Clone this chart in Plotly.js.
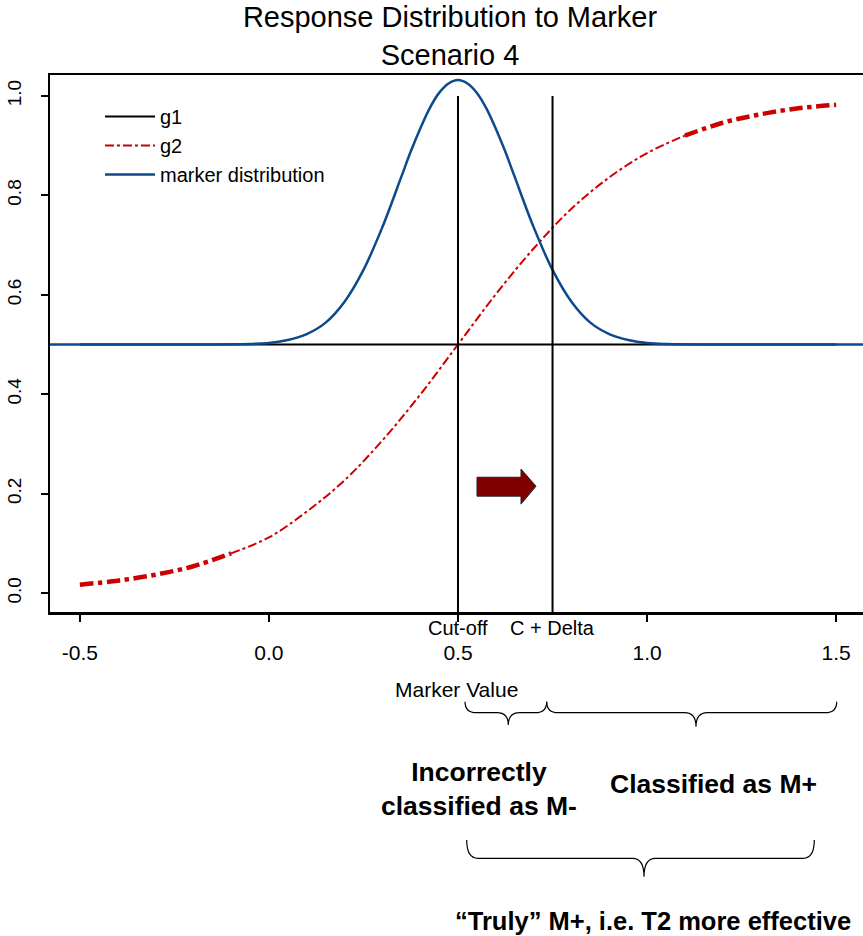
<!DOCTYPE html>
<html>
<head>
<meta charset="utf-8">
<script src="https://cdn.plot.ly/plotly-3.0.1.min.js"></script>
<style>
html,body{margin:0;padding:0;overflow:hidden;background:#fff;}
#chart{width:870px;height:936px;}
</style>
</head>
<body>
<div id="chart"></div>
<script>
// ---- data ----
const g1X = [-0.5, 1.5];
const g1Y = [0.5, 0.5];

const g2X = [-0.5,-0.4,-0.3,-0.2,-0.1,0.0,0.1,0.2,0.3,0.4,0.5,0.6,0.7,0.8,0.9,1.0,1.1,1.2,1.3,1.4,1.5];
const g2Y = [0.017,0.025,0.037,0.054,0.080,0.112,0.164,0.227,0.307,0.399,0.500,0.601,0.693,0.773,0.836,0.885,0.920,0.946,0.963,0.975,0.982];

const markerX = [-0.58,-0.5,-0.25,0.0,0.05,0.1,0.15,0.2,0.25,0.3,0.35,0.375,0.4,0.425,0.45,0.475,0.5,0.525,0.55,0.575,0.6,0.625,0.65,0.7,0.75,0.8,0.85,0.9,0.95,1.0,1.05,1.25,1.5,1.58];
const markerY = [0.5,0.5,0.5,0.503,0.509,0.521,0.544,0.586,0.650,0.736,0.837,0.888,0.934,0.975,1.006,1.025,1.032,1.025,1.006,0.975,0.934,0.888,0.837,0.736,0.650,0.586,0.544,0.521,0.509,0.503,0.501,0.5,0.5,0.5];

const cutoff = 0.5;
const cDelta = 0.75;
const xTickVals = [-0.5, 0.0, 0.5, 1.0, 1.5];
const xTickText = ["-0.5", "0.0", "0.5", "1.0", "1.5"];
const yTickVals = [0.0, 0.2, 0.4, 0.6, 0.8, 1.0];
const yTickText = ["0.0", "0.2", "0.4", "0.6", "0.8", "1.0"];
const legendNames = ["g1", "g2", "marker distribution"];

// ---- styling / layout constants ----
const FONT = "Liberation Sans, Arial, Helvetica, sans-serif";
const W = 870, H = 936;
const M = {l: 50, r: 4, t: 75, b: 324};
const XR = [-0.579, 1.579];
const YR = [-0.038, 1.042];
const plotH = H - M.t - M.b;
const plotW = W - M.l - M.r;
// pixel -> paper helpers (for annotations / decorations only)
const pyP = p => (H - M.b - p) / plotH;
const pxP = p => (p - M.l) / plotW;
const pxX = p => XR[0] + (p - M.l) / plotW * (XR[1] - XR[0]);

const RED = "#cc0000";
const BLUE = "#0b4a8b";

// g2 drawn in three pieces: thicker at both ends, thin in the middle
function sliceRange(lo, hi) {
  const xs = [], ys = [];
  g2X.forEach((x, i) => { if (x >= lo - 1e-9 && x <= hi + 1e-9) { xs.push(x); ys.push(g2Y[i]); } });
  return {xs, ys};
}
const segL = sliceRange(-0.5, -0.1);
const segM = sliceRange(-0.1, 1.1);
const segR = sliceRange(1.0, 1.5);

const traces = [
  {x: g1X, y: g1Y, mode: "lines", name: legendNames[0], legendrank: 1,
   line: {color: "black", width: 2}},
  {x: segM.xs, y: segM.ys, mode: "lines", name: legendNames[1], legendrank: 2, legendgroup: "g2",
   line: {color: RED, width: 2, dash: "dashdot", shape: "spline"}},
  {x: segL.xs, y: segL.ys, mode: "lines", name: legendNames[1], showlegend: false, legendgroup: "g2",
   line: {color: RED, width: 4.5, dash: "dashdot", shape: "spline"}},
  {x: segR.xs.slice(1), y: segR.ys.slice(1), mode: "lines", name: legendNames[1], showlegend: false, legendgroup: "g2",
   line: {color: RED, width: 4.5, dash: "dashdot", shape: "spline"}},
  {x: markerX, y: markerY, mode: "lines", name: legendNames[2], legendrank: 3,
   line: {color: BLUE, width: 2.5, shape: "spline", smoothing: 1}}
];

// curly brace path: x in data units, y in paper units
function brace(x0, x1, xm, yTop, yMid, yTip) {
  const r = 0.03;
  return `M ${x0},${yTop} Q ${x0},${yMid} ${x0 + r},${yMid} L ${xm - r},${yMid} ` +
         `Q ${xm},${yMid} ${xm},${yTip} Q ${xm},${yMid} ${xm + r},${yMid} ` +
         `L ${x1 - r},${yMid} Q ${x1},${yMid} ${x1},${yTop}`;
}

const shapes = [
  {type: "line", xref: "x", yref: "y", x0: cutoff, x1: cutoff, y0: YR[0], y1: 1.0,
   line: {color: "black", width: 2}},
  {type: "line", xref: "x", yref: "y", x0: cDelta, x1: cDelta, y0: YR[0], y1: 1.0,
   line: {color: "black", width: 2}},
  // arrow
  {type: "path", xref: "x", yref: "y",
   path: `M ${pxX(477)},0.233 L ${pxX(521)},0.233 L ${pxX(521)},0.2495 L ${pxX(536)},0.215 ` +
         `L ${pxX(521)},0.179 L ${pxX(521)},0.195 L ${pxX(477)},0.195 Z`,
   fillcolor: "#800000", line: {color: "#222", width: 1}},
  // braces
  {type: "path", xref: "x", yref: "paper",
   path: brace(pxX(465), pxX(546.7), pxX(508.3), pyP(701.7), pyP(712.7), pyP(725)),
   line: {color: "black", width: 1.2}},
  {type: "path", xref: "x", yref: "paper",
   path: brace(pxX(546.7), pxX(836.7), pxX(696), pyP(701.7), pyP(712.7), pyP(726.7)),
   line: {color: "black", width: 1.2}},
  {type: "path", xref: "x", yref: "paper",
   path: brace(pxX(466.7), pxX(814.3), pxX(644), pyP(840), pyP(858.3), pyP(876.7)),
   line: {color: "black", width: 1.2}}
];

const annotations = [
  {text: "Cut-off", xref: "x", yref: "paper", x: cutoff, y: pyP(628),
   xanchor: "center", yanchor: "middle", showarrow: false, font: {size: 20, color: "black"}},
  {text: "C + Delta", xref: "x", yref: "paper", x: cDelta, y: pyP(628),
   xanchor: "center", yanchor: "middle", showarrow: false, font: {size: 20, color: "black"}},
  {text: "Marker Value", xref: "paper", yref: "paper", x: pxP(456), y: pyP(689),
   xanchor: "center", yanchor: "middle", showarrow: false, font: {size: 21, color: "black"}},
  {text: "<b>Incorrectly</b><br><b>classified as M-</b>", xref: "paper", yref: "paper",
   x: pxP(479), y: pyP(789), xanchor: "center", yanchor: "middle", align: "center",
   showarrow: false, font: {size: 26.5, color: "black"}},
  {text: "<b>Classified as M+</b>", xref: "paper", yref: "paper", x: pxP(713), y: pyP(784),
   xanchor: "center", yanchor: "middle", showarrow: false, font: {size: 26.5, color: "black"}},
  {text: "<b>\u201CTruly\u201D M+, i.e. T2 more effective</b>", xref: "paper", yref: "paper",
   x: pxP(453), y: pyP(921), xanchor: "left", yanchor: "middle", showarrow: false,
   font: {size: 25.5, color: "black"}}
];

const layout = {
  width: W, height: H,
  margin: M,
  paper_bgcolor: "white", plot_bgcolor: "white",
  font: {family: FONT, color: "black", size: 20},
  title: {text: "Response Distribution to Marker<br>Scenario 4", font: {size: 29, color: "black"},
          xref: "paper", x: pxP(450), xanchor: "center",
          yref: "container", y: 1 - 27 / H, yanchor: "middle"},
  showlegend: true,
  legend: {x: pxP(100), y: pyP(97), xanchor: "left", yanchor: "top",
           bgcolor: "rgba(0,0,0,0)", borderwidth: 0, font: {size: 20, color: "black"},
           itemwidth: 50, tracegroupgap: 0, traceorder: "normal"},
  xaxis: {range: XR, showgrid: false, zeroline: false, showline: true, mirror: true,
          linecolor: "black", linewidth: 2.5, ticks: "outside", ticklen: 7, tickwidth: 2,
          tickcolor: "black", tickvals: xTickVals, ticktext: xTickText,
          tickfont: {size: 21}, ticklabelstandoff: 13, fixedrange: true},
  yaxis: {range: YR, showgrid: false, zeroline: false, showline: true, mirror: true,
          linecolor: "black", linewidth: 2.5, ticks: "outside", ticklen: 7, tickwidth: 2,
          tickcolor: "black", tickvals: yTickVals, ticktext: yTickText, tickangle: -90,
          tickfont: {size: 19}, ticklabelstandoff: 12, fixedrange: true},
  shapes: shapes,
  annotations: annotations
};

Plotly.newPlot("chart", traces, layout, {displayModeBar: false, staticPlot: true});
</script>
</body>
</html>
